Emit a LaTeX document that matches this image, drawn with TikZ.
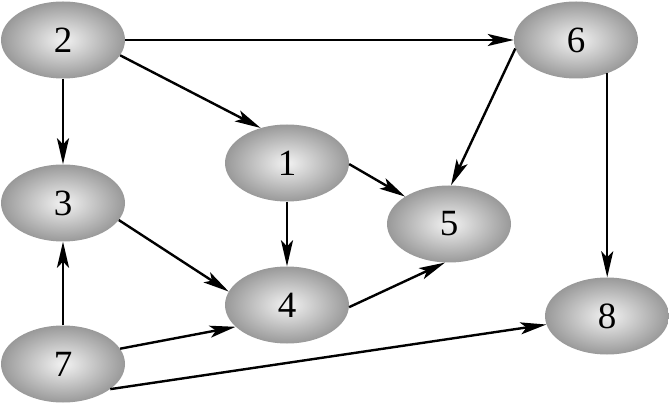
\documentclass[tikz,border=0pt]{standalone}
\usepackage{fontspec}
\setmainfont{Liberation Serif}
\usepackage{tikz}
\usetikzlibrary{arrows.meta,shapes.geometric}
\tikzstyle{vertex} = [ellipse, minimum width=124pt, minimum height=77pt, inner sep=0pt,
	shading=radial, inner color=gray!10, outer color=gray!80,
	font=\fontsize{37}{40}\selectfont]
\tikzstyle{link} = [line width=2.4pt, -{Stealth[length=26pt,width=12pt,inset=6pt]}]

\begin{document}
\begin{tikzpicture}[x=1pt, y=-1pt]
	\useasboundingbox (0,0) rectangle (669,403);
	\node[vertex] (2) at (63,40) {2};
	\node[vertex] (6) at (576,40) {6};
	\node[vertex] (1) at (287,163) {1};
	\node[vertex] (3) at (63,203) {3};
	\node[vertex] (5) at (449,224) {5};
	\node[vertex] (4) at (287,305) {4};
	\node[vertex] (8) at (607,316) {8};
	\node[vertex] (7) at (63,364) {7};

	\draw[link] (2.east) -- (6.west);
	\draw[link] (2.-15) -- (1.127);
	\draw[link] (2) -- (3);
	\draw[link] (1.-1) -- (5.148);
	\draw[link] (1) -- (4);
	\draw[link] (6.188) -- (5.87);
	\draw[link] (6.-47) -- (6.-47 |- 8.north);
	\draw[link] (3.-17) -- (4.167);
	\draw[link] (7) -- (3);
	\draw[link] (7.15) -- (4.203);
	\draw[link] (4.-2) -- (5.264);
	\draw[link] (7.-28) -- (8.188);
\end{tikzpicture}
\end{document}
